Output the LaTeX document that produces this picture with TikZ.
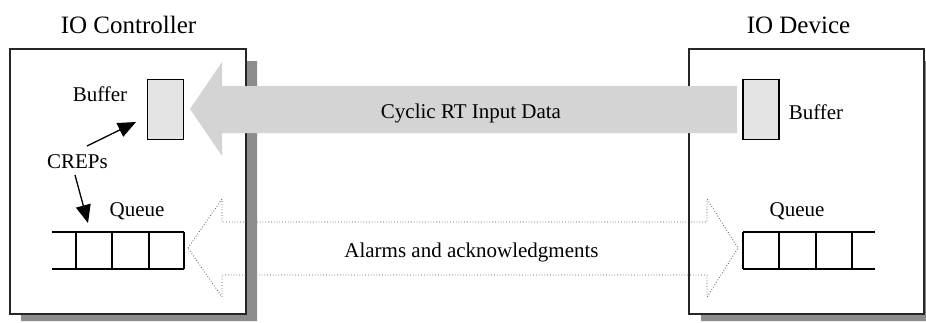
\documentclass[tikz,border=0pt]{standalone}
\usepackage{fontspec}
\setmainfont{Liberation Serif}
\usetikzlibrary{arrows.meta}
\definecolor{shadowgray}{HTML}{8C8C8C}
\definecolor{flowgray}{HTML}{D4D4D4}
\definecolor{bufgray}{HTML}{E4E4E4}
\definecolor{dotgray}{HTML}{555555}
\tikzset{
  title/.style={anchor=base, inner sep=0pt, font=\fontsize{25}{30}\selectfont},
  lbl/.style={anchor=base, inner sep=0pt, font=\fontsize{21}{25}\selectfont},
  devbox/.style={draw=black!85, line width=1.3pt},
  boxshadow/.style={fill=shadowgray, draw=none},
  bufbox/.style={draw=black, line width=1.6pt, fill=bufgray, minimum width=36pt, minimum height=60pt, inner sep=0pt},
  qline/.style={draw=black, line width=1.6pt},
  crep/.style={line width=1.3pt, -{Triangle[length=18pt,width=15pt]}},
  dotarrow/.style={draw=dotgray, line width=0.8pt, dotted},
}
\begin{document}
\begin{tikzpicture}[x=1pt, y=-1pt]
\useasboundingbox (0,0) rectangle (926,322);
\fill[white] (0,0) rectangle (926,322);

% alarms channel (dotted double arrow), behind the boxes
\draw[dotarrow] (188,248) -- (222,199) -- (222,222) -- (707,222) -- (707,199)
  -- (738,248) -- (707,297) -- (707,275) -- (222,275) -- (222,297) -- cycle;

% IO Controller box with drop shadow
\fill[boxshadow] (246,61) -- (257,61) -- (257,321) -- (21,321) -- (21,314) -- (246,314) -- cycle;
\node[devbox, minimum width=236pt, minimum height=265pt, inner sep=0pt] (ctrl) at (128,181.5) {};

% IO Device box with drop shadow
\fill[boxshadow] (924,61) -- (930,61) -- (930,321) -- (701,321) -- (701,314) -- (924,314) -- cycle;
\node[devbox, minimum width=235pt, minimum height=265pt, inner sep=0pt] (dev) at (806.5,181.5) {};

% titles
\node[title] (ctrltitle) at (128.5,33) {IO Controller};
\node[title] (devtitle) at (798.5,33) {IO Device};

% buffers
\node[bufbox] (bufL) at (165.5,109.5) {};
\node[bufbox] (bufR) at (761,109.5) {};
\node[lbl] (bufLtxt) at (100,101) {Buffer};
\node[lbl] (bufRtxt) at (816,119) {Buffer};

% queues
\node[lbl] (qLtxt) at (137,216) {Queue};
\node[lbl] (qRtxt) at (797,216) {Queue};
\draw[qline] (52,232) -- (184,232) (52,269) -- (184,269)
  (76,232) -- (76,269) (112,232) -- (112,269) (149,232) -- (149,269) (184,232) -- (184,269);
\draw[qline] (743,232) -- (875,232) (743,269) -- (875,269)
  (743,232) -- (743,269) (779,232) -- (779,269) (816,232) -- (816,269) (852,232) -- (852,269);
\coordinate (qLtop) at (88,223);

% CREPs pointing at buffer and queue
\node[lbl] (creps) at (77.5,168) {CREPs};
\coordinate (crepsA) at (87,146);
\coordinate (crepsB) at (75,175);
\coordinate (bufLtip) at (136,122);
\draw[crep] (crepsA) -- (bufLtip);
\draw[crep] (crepsB) -- (qLtop);

% cyclic input data flow (solid grey arrow), on top
\fill[flowgray] (190,109) -- (222,62) -- (222,86) -- (737,86) -- (737,133) -- (222,133) -- (222,156) -- cycle;

% channel labels
\node[lbl] (cyclic) at (471,118) {Cyclic RT Input Data};
\node[lbl] (alarms) at (471.5,257) {Alarms and acknowledgments};
\end{tikzpicture}
\end{document}
